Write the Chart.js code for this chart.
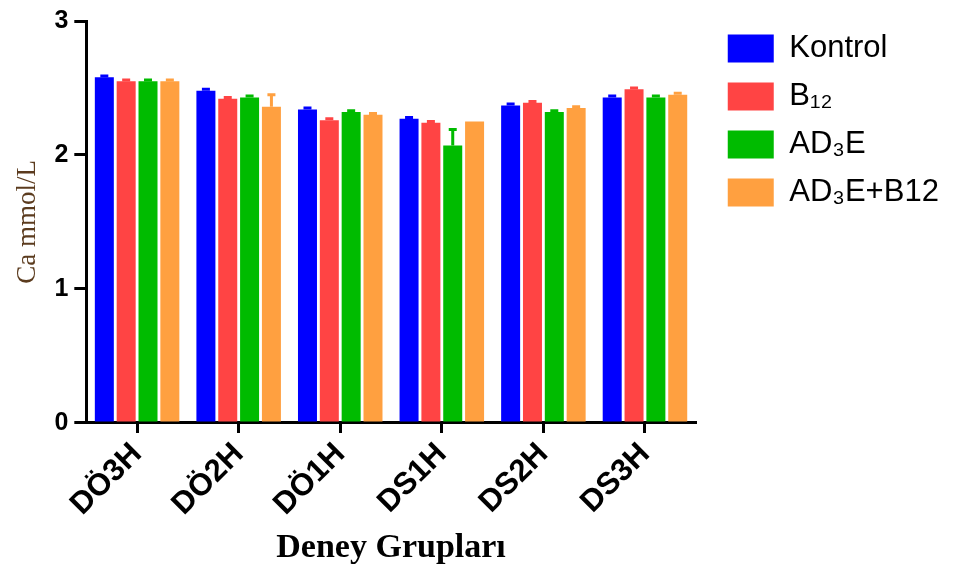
<!DOCTYPE html>
<html>
<head>
<meta charset="utf-8">
<script src="https://cdn.jsdelivr.net/npm/chart.js@4"></script>
<style>
  html, body { margin: 0; padding: 0; background: #fff; }
  #wrap { width: 962px; height: 569px; }
</style>
</head>
<body>
<div id="wrap"><canvas id="ca-chart"></canvas></div>
<script>
// Ca values per group (mean) and error bar heights
var groups = ["DÖ3H", "DÖ2H", "DÖ1H", "DS1H", "DS2H", "DS3H"];
var seriesNames = ["Kontrol", "B₁₂", "AD₃E", "AD₃E+B12"];
var kontrol  = [2.58, 2.48, 2.34, 2.27, 2.37, 2.43];
var b12      = [2.55, 2.42, 2.26, 2.24, 2.39, 2.49];
var ad3e     = [2.55, 2.43, 2.32, 2.07, 2.32, 2.43];
var ad3eB12  = [2.55, 2.36, 2.30, 2.25, 2.35, 2.45];
var kontrolErr = [0.01, 0.01, 0.01, 0.01, 0.01, 0.01];
var b12Err     = [0.01, 0.01, 0.01, 0.01, 0.01, 0.01];
var ad3eErr    = [0.01, 0.01, 0.01, 0.12, 0.01, 0.01];
var ad3eB12Err = [0.01, 0.09, 0.01, 0.00, 0.01, 0.01];
var yTicks = [0, 1, 2, 3];

var colors = ["#0000FF", "#FF4444", "#00BB00", "#FFA040"];

// draws the upper error bars (GraphPad style)
var errorBars = {
    id: "errorBars",
    afterDatasetsDraw: function(chart) {
        var ctx = chart.ctx;
        var yScale = chart.scales.y;
        chart.data.datasets.forEach(function(ds, i) {
            var meta = chart.getDatasetMeta(i);
            ctx.save();
            ctx.strokeStyle = ds.backgroundColor;
            ctx.lineWidth = 3;
            meta.data.forEach(function(bar, j) {
                var err = ds.errors[j];
                if (!err) return;
                var y0 = yScale.getPixelForValue(ds.data[j]);
                var y1 = yScale.getPixelForValue(ds.data[j] + err);
                ctx.beginPath();
                ctx.moveTo(bar.x, y0);
                ctx.lineTo(bar.x, y1);
                ctx.moveTo(bar.x - 4, y1);
                ctx.lineTo(bar.x + 4, y1);
                ctx.stroke();
            });
            ctx.restore();
        });
    }
};

// push the legend a bit away from the plot
var legendGap = {
    id: "legendGap",
    afterLayout: function(chart) {
        chart.legend.left += 15;
        chart.legend.right += 15;
    }
};

var values = [kontrol, b12, ad3e, ad3eB12];
var errs = [kontrolErr, b12Err, ad3eErr, ad3eB12Err];

var chartData = {
    labels: groups,
    datasets: seriesNames.map(function(name, i) {
        return {
            label: name,
            data: values[i],
            errors: errs[i],
            backgroundColor: colors[i],
            borderWidth: 0,
            categoryPercentage: 0.86,
            barPercentage: 0.87
        };
    })
};

var chartOptions = {
    responsive: false,
    animation: false,
    layout: { padding: { top: 16, right: 37, bottom: 0, left: 8 } },
    plugins: {
        legend: {
            position: "right",
            align: "start",
            labels: {
                boxWidth: 46,
                boxHeight: 28,
                padding: 17,
                color: "#000",
                font: { family: "'Liberation Sans', Arial", size: 31 }
            }
        },
        tooltip: { enabled: false }
    },
    scales: {
        x: {
            grid: { display: true, drawOnChartArea: false, offset: false, color: "#000", lineWidth: 3, tickLength: 10 },
            border: { color: "#000", width: 3 },
            ticks: {
                minRotation: 45, maxRotation: 45,
                color: "#000",
                font: { family: "'Liberation Sans', Arial", size: 31, weight: "bold" }
            },
            title: {
                display: true,
                text: "Deney Grupları",
                color: "#000",
                padding: { top: 2, bottom: 0 },
                font: { family: "'Liberation Serif', 'Times New Roman'", size: 34, weight: "bold" }
            }
        },
        y: {
            min: 0, max: 3,
            afterBuildTicks: function(scale) {
                scale.ticks = yTicks.map(function(v) { return { value: v }; });
            },
            grid: { display: true, drawOnChartArea: false, color: "#000", lineWidth: 3, tickLength: 12 },
            border: { color: "#000", width: 3 },
            ticks: {
                color: "#000",
                padding: 6,
                font: { family: "'Liberation Sans', Arial", size: 25, weight: "bold" }
            },
            title: {
                display: true,
                text: "Ca mmol/L",
                color: "#5b3b1e",
                font: { family: "'Liberation Serif', 'Times New Roman'", size: 27 }
            }
        }
    }
};

var canvas = document.getElementById("ca-chart");
canvas.width = 962;
canvas.height = 569;
var caChart = new Chart(canvas, {
    type: "bar",
    data: chartData,
    options: chartOptions,
    plugins: [errorBars, legendGap]
});
</script>
</body>
</html>
